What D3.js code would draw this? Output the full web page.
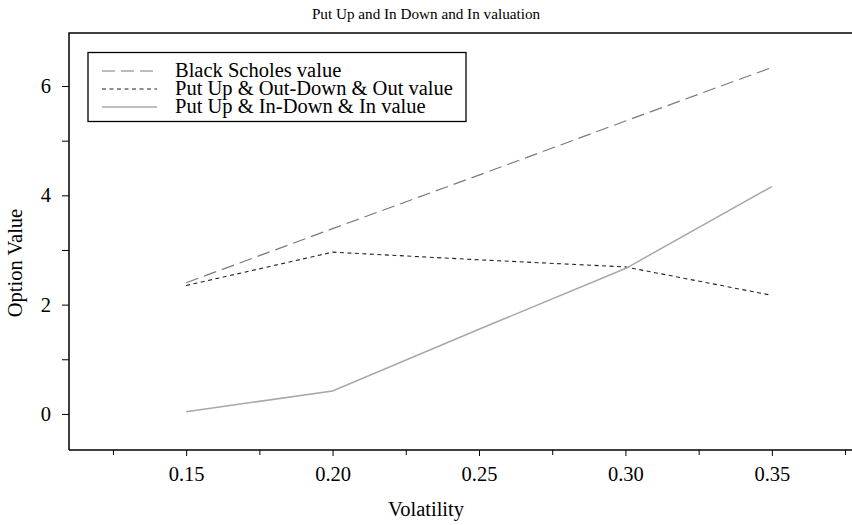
<!DOCTYPE html>
<html><head><meta charset="utf-8">
<script src="https://cdn.jsdelivr.net/npm/d3@7/dist/d3.min.js"></script>
<style>
body{margin:0;background:#fff;}
svg text{font-family:"Liberation Serif","Times New Roman",serif;fill:#000;}
</style></head>
<body><svg id="c" width="852" height="525"></svg>
<script>
const volatility = [0.15, 0.20, 0.25, 0.30, 0.35];
const blackScholes = [2.40, 3.39, 4.37, 5.36, 6.34];
const upOutDownOut = [2.35, 2.96, 2.82, 2.69, 2.17];
const upInDownIn = [0.04, 0.42, 1.55, 2.66, 4.16];
const seriesNames = ["Black Scholes value", "Put Up & Out-Down & Out value", "Put Up & In-Down & In value"];
const xTicks = [0.15, 0.20, 0.25, 0.30, 0.35];
const xMinor = [0.125, 0.175, 0.225, 0.275, 0.325, 0.375];
const yTicks = [0, 2, 4, 6];
const yMinor = [1, 3, 5];

const svg = d3.select("#c");
const L = 69, T = 33, B = 450;
const x = d3.scaleLinear().domain([0.11, 0.39]).range([L, 889]);
const y = d3.scaleLinear().domain([-0.66, 6.97]).range([B, T]);

const styles = [
  {stroke:"#7a7a7a", dash:"13,6", w:1.2},
  {stroke:"#222", dash:"4,3.5", w:1.1},
  {stroke:"#a8a8a8", dash:null, w:1.5}
];
const data = [blackScholes, upOutDownOut, upInDownIn];
const FS = 20.5;

// frame
svg.append("path").attr("d", `M${L},${B}V${T}H852`).attr("fill","none").attr("stroke","#000").attr("stroke-width",1.5);

const fmt = d3.format(".2f");
const gx = svg.append("g").attr("transform",`translate(0,${B})`)
  .call(d3.axisBottom(x).tickValues(xTicks).tickFormat(fmt).tickSize(6).tickPadding(10).tickSizeOuter(0));
gx.select(".domain").attr("d", `M${L},0H852`).attr("stroke-width",1.5);
const gxm = svg.append("g").attr("transform",`translate(0,${B})`)
  .call(d3.axisBottom(x).tickValues(xMinor).tickFormat("").tickSize(5).tickSizeOuter(0));
gxm.select(".domain").remove();

const gy = svg.append("g").attr("transform",`translate(${L},0)`)
  .call(d3.axisLeft(y).tickValues(yTicks).tickFormat(d3.format("d")).tickSize(7).tickPadding(11).tickSizeOuter(0));
gy.select(".domain").remove();
const gym = svg.append("g").attr("transform",`translate(${L},0)`)
  .call(d3.axisLeft(y).tickValues(yMinor).tickFormat("").tickSize(7).tickSizeOuter(0));
gym.select(".domain").remove();

svg.selectAll(".tick text").attr("font-size",FS).attr("font-family","Liberation Serif, serif").attr("fill","#000");
svg.selectAll(".tick line").attr("stroke","#000");

// lines
const line = d3.line().x((d,i)=>x(volatility[i])).y(d=>y(d));
data.forEach((s,k)=>{
  svg.append("path").datum(s).attr("d",line).attr("fill","none")
    .attr("stroke",styles[k].stroke).attr("stroke-width",styles[k].w)
    .attr("stroke-dasharray",styles[k].dash);
});

// legend
const lg = svg.append("g");
lg.append("rect").attr("x",88).attr("y",52.5).attr("width",378).attr("height",69)
  .attr("fill","#fff").attr("stroke","#000").attr("stroke-width",1.3);
seriesNames.forEach((n,k)=>{
  const cy = 71 + k*18;
  lg.append("line").attr("x1",102).attr("x2",157).attr("y1",cy).attr("y2",cy)
    .attr("stroke",styles[k].stroke).attr("stroke-width",styles[k].w).attr("stroke-dasharray",styles[k].dash);
  lg.append("text").attr("x",175).attr("y",cy+6).attr("font-size",FS).text(n);
});

// titles
svg.append("text").attr("x",426).attr("y",19).attr("text-anchor","middle").attr("font-size",15.2)
  .text("Put Up and In Down and In valuation");
svg.append("text").attr("x",426).attr("y",516).attr("text-anchor","middle").attr("font-size",FS)
  .text("Volatility");
svg.append("text").attr("transform","translate(22,263) rotate(-90)").attr("text-anchor","middle").attr("font-size",FS)
  .text("Option Value");
</script></body></html>
